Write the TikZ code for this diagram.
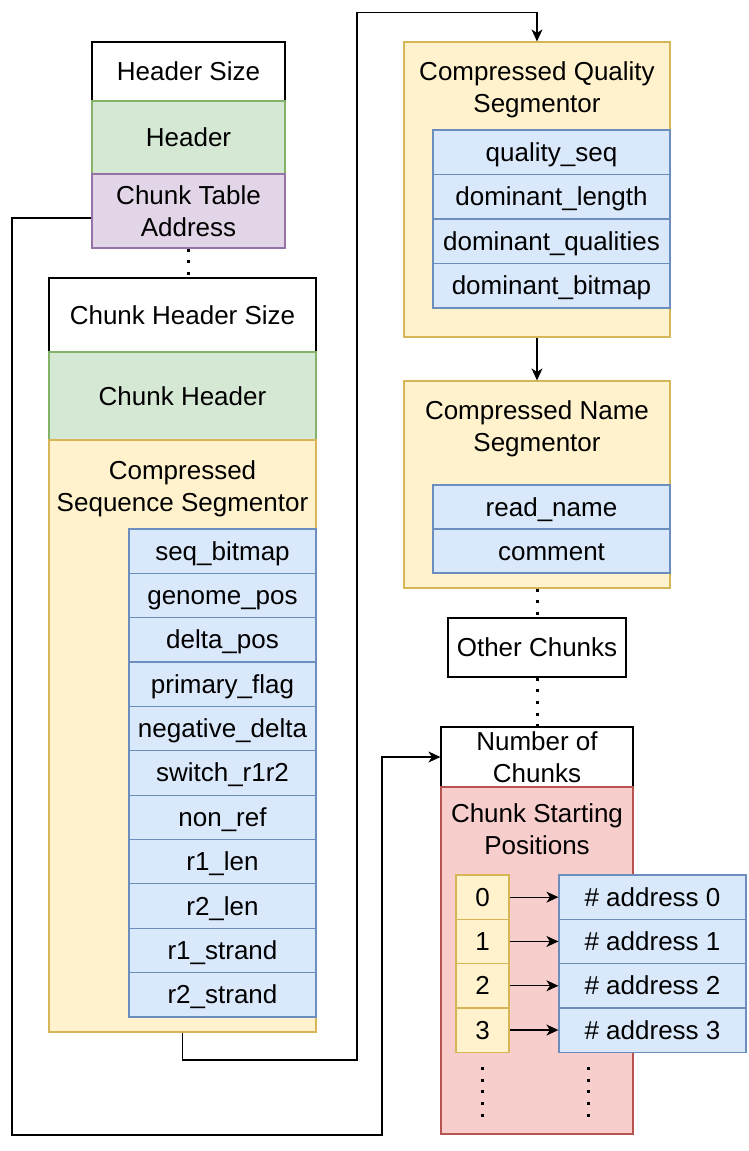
\documentclass[tikz,border=0pt]{standalone}
\usepackage{xcolor}
\usepackage{fontspec}
\setmainfont{Liberation Sans}
\usepackage{tikz}
\usetikzlibrary{arrows.meta, positioning, calc}

\definecolor{grnfill}{HTML}{D5E8D4}
\definecolor{grnline}{HTML}{82B366}
\definecolor{purfill}{HTML}{E1D5E7}
\definecolor{purline}{HTML}{9673A6}
\definecolor{ylwfill}{HTML}{FFF2CC}
\definecolor{ylwline}{HTML}{D6B656}
\definecolor{blufill}{HTML}{DAE8FC}
\definecolor{bluline}{HTML}{6C8EBF}
\definecolor{redfill}{HTML}{F8CECC}
\definecolor{redline}{HTML}{B85450}

\tikzset{
  cell/.style={rectangle, draw, line width=1.2pt, inner sep=0pt, align=center,
    font=\fontsize{26}{32}\selectfont, text height=18pt, text depth=0pt},
  twolines/.style={text height=50pt, text depth=0pt},
  plain/.style={cell, draw=black, fill=white},
  green/.style={cell, draw=grnline, fill=grnfill},
  purple/.style={cell, draw=purline, fill=purfill},
  yellow/.style={cell, draw=ylwline, fill=ylwfill},
  blue/.style={cell, draw=bluline, fill=blufill},
  red/.style={cell, draw=redline, fill=redfill},
  title/.style={anchor=north, align=center, inner sep=0pt, font=\fontsize{26}{32}\selectfont},
  link/.style={draw=black, line width=1.3pt, -{Stealth[length=12pt, width=11pt, inset=3.5pt]}},
  dots/.style={draw=black, line width=3pt, dash pattern=on 3pt off 8.7pt}
}

\begin{document}
\begin{tikzpicture}[x=1pt, y=-1pt]
  \useasboundingbox (0,0) rectangle (748,1151);

  % File header
  \node[plain, minimum width=193pt, minimum height=59pt] (hsize) at (188.5,71.5) {Header Size};
  \node[green, minimum width=193pt, minimum height=73pt] (head) at (188.5,137.5) {Header};
  \node[purple, twolines, minimum width=193pt, minimum height=74pt] (cta) at (188.5,211) {Chunk Table\\Address};

  % Chunk
  \node[plain, minimum width=267pt, minimum height=74pt] (chsize) at (182.5,315) {Chunk Header Size};
  \node[green, minimum width=267pt, minimum height=88pt] (chead) at (182.5,396) {Chunk Header};
  \node[yellow, minimum width=267pt, minimum height=592pt] (cseq) at (182.5,736) {};
  \node[title] (cseqtitle) at (182.5,460) {Compressed\\Sequence Segmentor};
  \foreach \fld [count=\i from 0] in {seq\_bitmap, genome\_pos, delta\_pos, primary\_flag,
      negative\_delta, switch\_r1r2, non\_ref, r1\_len, r2\_len, r1\_strand, r2\_strand} {
    \node[blue, minimum width=187pt, minimum height=44.36pt] (seq\i) at (222.5,{529+44.36*(\i+0.5)}) {\fld};
  }

  % Quality segmentor
  \node[yellow, minimum width=266pt, minimum height=295pt] (qual) at (537,189.5) {};
  \node[title] (qualtitle) at (537,61) {Compressed Quality\\Segmentor};
  \foreach \fld [count=\i from 0] in {quality\_seq, dominant\_length, dominant\_qualities, dominant\_bitmap} {
    \node[blue, minimum width=237pt, minimum height=44.5pt] (qf\i) at (551.5,{130+44.5*(\i+0.5)}) {\fld};
  }

  % Name segmentor
  \node[yellow, minimum width=266pt, minimum height=207pt] (name) at (537,484.5) {};
  \node[title] (nametitle) at (537,400) {Compressed Name\\Segmentor};
  \foreach \fld [count=\i from 0] in {read\_name, comment} {
    \node[blue, minimum width=237pt, minimum height=44pt] (nf\i) at (551.5,{485+44*(\i+0.5)}) {\fld};
  }

  % Other chunks and chunk table
  \node[plain, minimum width=178pt, minimum height=59pt] (other) at (537,647.5) {Other Chunks};
  \node[plain, twolines, minimum width=192pt, minimum height=60pt] (nchunks) at (537,757) {Number of\\Chunks};
  \node[red, minimum width=192pt, minimum height=347pt] (starts) at (537,960.5) {};
  \node[title] (startstitle) at (537,803) {Chunk Starting\\Positions};
  \foreach \i in {0,...,3} {
    \node[yellow, minimum width=53pt, minimum height=44.3pt] (idx\i) at (482.5,{875+44.3*(\i+0.5)}) {\i};
    \node[blue, minimum width=187pt, minimum height=44.3pt] (addr\i) at (652.5,{875+44.3*(\i+0.5)}) {\# address \i};
    \draw[link] (idx\i) -- (addr\i);
  }

  % Dots
  \draw[dots] (cta.south) -- (cta.south |- chsize.north);
  \draw[dots] (name.south) -- (other.north);
  \draw[dots] (other.south) -- (nchunks.north);
  \draw[dots] ([yshift=-14pt]idx3.south) -- ++(0,52);
  \draw[dots] ([yshift=-14pt]addr3.south -| 588,0) -- ++(0,52);

  % Connectors
  \draw[link] (cseq.south) -- (cseq.south |- 0,1060) -- (357,1060) -- (357,12.5)
    -- (qual.north |- 0,12.5) -- (qual.north);
  \draw[link] (qual.south) -- (name.north);
  \draw[link] ([yshift=-7pt]cta.west) -- (12,218) -- (12,1135) -- (382,1135)
    -- (382,757) -- (nchunks.west);
\end{tikzpicture}
\end{document}
